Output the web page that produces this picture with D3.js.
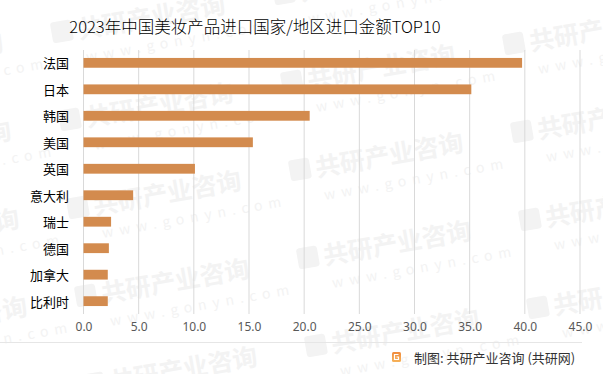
<!DOCTYPE html>
<html><head><meta charset="utf-8">
<script src="https://cdn.jsdelivr.net/npm/d3@7"></script>
<style>
html,body{margin:0;padding:0;background:#fff;}
svg{display:block;font-family:"Noto Sans CJK SC","Noto Sans",sans-serif;}
</style></head>
<body><svg id="c" width="603" height="374"></svg>
<script>
const title = "2023年中国美妆产品进口国家/地区进口金额TOP10";
const categories = ["法国","日本","韩国","美国","英国","意大利","瑞士","德国","加拿大","比利时"];
const values = [39.75, 35.15, 20.5, 15.35, 10.1, 4.5, 2.5, 2.3, 2.2, 2.2];
const xTicks = [0,5,10,15,20,25,30,35,40,45];
const footer = "制图: 共研产业咨询 (共研网)";

const svg = d3.select("#c");
const W = 603, H = 374;
svg.append("rect").attr("width",W).attr("height",H).attr("fill","#fff");

// watermark tiling
const wm = svg.append("g").attr("class","wm");
for (let i=-1;i<=2;i++) for (let j=-2;j<=2;j++){
  const px = 95 + 222*i + 8*j, py = 215 - 38*i + 88*j;
  const g = wm.append("g").attr("transform",`translate(${px},${py}) rotate(-10)`);
  g.append("rect").attr("x",-26).attr("y",-21).attr("width",21).attr("height",21).attr("rx",3).attr("fill","#f3f3f3");
  g.append("text").attr("x",0).attr("y",0).attr("font-size",25).attr("font-weight","bold").attr("fill","#f3f3f3").text("共研产业咨询");
  g.append("text").attr("x",4).attr("y",24).attr("font-size",14).attr("letter-spacing","6px").attr("fill","#f3f3f3").text("www.gonyn.com");
}

const x = d3.scaleLinear().domain([0,45]).range([83.5,580]);
const y = d3.scaleBand().domain(categories).range([50,314]).paddingInner(0.63).paddingOuter(0.3);

// gridlines
svg.append("g").selectAll("line").data(xTicks).join("line")
  .attr("x1",d=>x(d)).attr("x2",d=>x(d)).attr("y1",50).attr("y2",314)
  .attr("stroke","#d9d9d9").attr("stroke-width",1);

// bars
svg.append("g").selectAll("rect").data(categories).join("rect")
  .attr("x",x(0)).attr("y",d=>y(d))
  .attr("width",(d,i)=>x(values[i])-x(0)).attr("height",y.bandwidth())
  .attr("fill","#D38B4E");

// category labels
svg.append("g").selectAll("text").data(categories).join("text")
  .attr("x",69).attr("y",d=>y(d)+y.bandwidth()/2)
  .attr("text-anchor","end").attr("dominant-baseline","central")
  .attr("font-size",13).attr("fill","#000").text(d=>d);

// x axis tick labels
const xAxis = d3.axisBottom(x).tickValues(xTicks).tickFormat(d3.format(".1f")).tickSize(0).tickPadding(0);
const ax = svg.append("g").attr("transform","translate(0,322)").call(xAxis);
ax.select(".domain").remove();
ax.selectAll("text").attr("font-size",12).attr("fill","#595959")
  .attr("font-family","'Noto Sans','DejaVu Sans',sans-serif").attr("dy","0.71em");

// title
svg.append("text").attr("x",255).attr("y",26).attr("text-anchor","middle")
  .attr("dominant-baseline","central").attr("font-size",16.5).attr("font-weight",300).attr("fill","#000").text(title);

// footer
svg.append("line").attr("x1",0).attr("x2",582).attr("y1",342.5).attr("y2",342.5).attr("stroke","#e6e6e6");
const defs = svg.append("defs");
const lg = defs.append("linearGradient").attr("id","lg").attr("x1",0).attr("y1",0).attr("x2",0).attr("y2",1);
lg.append("stop").attr("offset","0%").attr("stop-color","#f08a3c");
lg.append("stop").attr("offset","100%").attr("stop-color","#f6b35a");
svg.append("rect").attr("x",392).attr("y",352).attr("width",9).attr("height",10).attr("rx",1.5).attr("fill","url(#lg)");
svg.append("path").attr("d","M398.5,354.5 H394.5 V359.5 H398.5 V357 H396.5").attr("fill","none").attr("stroke","#fff").attr("stroke-width",1.2);
svg.append("text").attr("x",414).attr("y",357).attr("dominant-baseline","central")
  .attr("font-size",13).attr("fill","#333").text(footer);
</script></body></html>
